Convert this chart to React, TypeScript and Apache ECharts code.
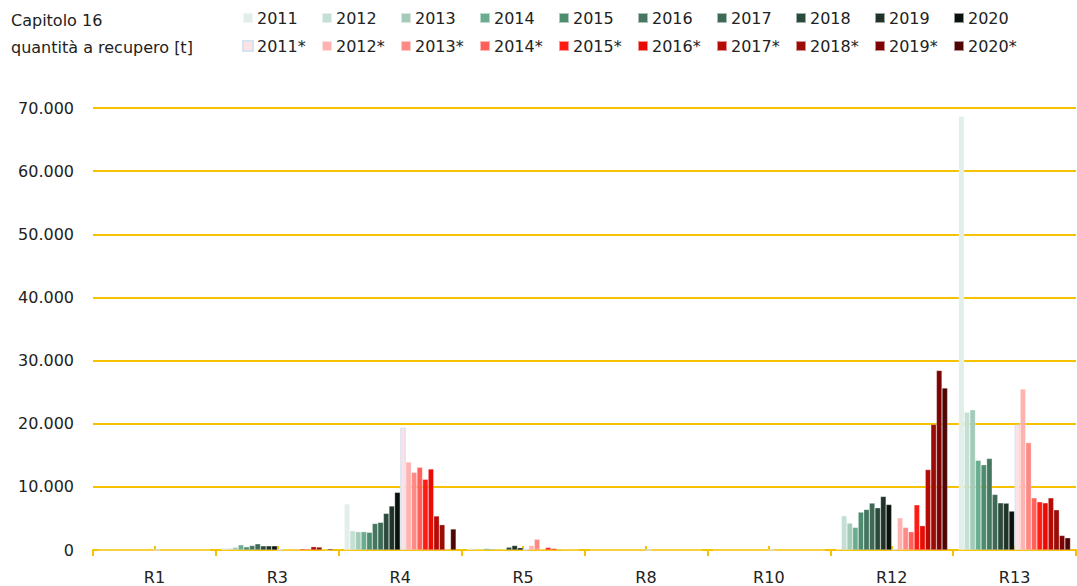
import React, { useEffect, useRef } from "react";
import * as echarts from "echarts";

const categories = ["R1", "R3", "R4", "R5", "R8", "R10", "R12", "R13"];

const seriesNames = [
  "2011", "2012", "2013", "2014", "2015", "2016", "2017", "2018", "2019", "2020",
  "2011*", "2012*", "2013*", "2014*", "2015*", "2016*", "2017*", "2018*", "2019*", "2020*",
];

const seriesColors = [
  "#e2eee8", "#c4dfd4", "#a4cbb8", "#6aac8e", "#4e8c70", "#457660", "#3d6955", "#2c4a3c", "#1f3329", "#0a120e",
  "#fde2e4", "#ffb3b0", "#ff8a85", "#ff615a", "#ff1a14", "#e80c04", "#b80a04", "#9a0c05", "#7c0204", "#4e0504",
];

// values per series across categories R1, R3, R4, R5, R8, R10, R12, R13
const v2011 = [0, 350, 7300, 290, 0, 0, 150, 68700];
const v2012 = [0, 290, 3060, 240, 0, 0, 5420, 21800];
const v2013 = [0, 440, 2900, 50, 0, 0, 4260, 22200];
const v2014 = [0, 820, 2900, 240, 0, 0, 3580, 14200];
const v2015 = [0, 500, 2800, 150, 0, 0, 6000, 13500];
const v2016 = [0, 710, 4200, 100, 0, 0, 6420, 14500];
const v2017 = [0, 980, 4380, 80, 0, 0, 7430, 8800];
const v2018 = [0, 660, 5800, 450, 0, 0, 6690, 7470];
const v2019 = [0, 660, 6970, 710, 0, 0, 8480, 7420];
const v2020 = [0, 660, 9130, 350, 0, 0, 7210, 6160];
const v2011s = [0, 50, 19400, 50, 0, 0, 100, 19850];
const v2012s = [0, 20, 13940, 710, 0, 0, 5100, 25500];
const v2013s = [0, 20, 12300, 1700, 0, 0, 3580, 17000];
const v2014s = [0, 30, 13100, 50, 0, 0, 2890, 8260];
const v2015s = [0, 200, 11200, 400, 0, 0, 7160, 7630];
const v2016s = [0, 150, 12830, 240, 0, 0, 3850, 7470];
const v2017s = [0, 520, 5390, 100, 0, 0, 12740, 8260];
const v2018s = [0, 470, 4010, 30, 0, 0, 19900, 6370];
const v2019s = [0, 80, 100, 20, 0, 0, 28440, 2300];
const v2020s = [0, 200, 3330, 20, 0, 0, 25650, 1940];

const seriesValues = [
  v2011, v2012, v2013, v2014, v2015, v2016, v2017, v2018, v2019, v2020,
  v2011s, v2012s, v2013s, v2014s, v2015s, v2016s, v2017s, v2018s, v2019s, v2020s,
];

const yTicks = [0, 10000, 20000, 30000, 40000, 50000, 60000, 70000];

const titleLines = ["Capitolo 16", "quantità a recupero [t]"];

const FONT = "'DejaVu Sans', 'Noto Sans', sans-serif";
const YELLOW = "#f6c200";
const TEXT = "#222";

export default function App() {
  const ref = useRef<HTMLDivElement>(null);

  useEffect(() => {
    if (!ref.current) return;
    const chart = echarts.init(ref.current, undefined, { renderer: "svg" });

    const series = seriesNames.map((name, i) => ({
      name,
      type: "bar",
      xAxisIndex: 0,
      data: seriesValues[i],
      barGap: "0%",
      barCategoryGap: "9%",
      itemStyle: {
        color: seriesColors[i],
        borderColor: i === 10 ? "#d6e2f0" : "rgba(255,255,255,0.55)",
        borderWidth: i === 10 ? 1 : 0.5,
      },
    }));

    const legends = seriesNames.map((name, i) => ({
      data: [name],
      left: 242 + (i % 10) * 79,
      top: i < 10 ? 10 : 38,
      itemWidth: 10,
      itemHeight: 10,
      itemGap: 0,
      padding: 0,
      icon: "rect",
      selectedMode: false,
      textStyle: { fontFamily: FONT, fontSize: 16, color: TEXT, padding: [0, 0, 0, -1] },
    }));

    chart.setOption({
      animation: false,
      backgroundColor: "#fff",
      graphic: titleLines.map((t, i) => ({
        type: "text",
        left: 11,
        top: 12 + i * 27,
        style: { text: t, fontFamily: FONT, fontSize: 16, fill: TEXT },
      })),
      legend: legends,
      grid: { left: 93, right: 1, top: 108, bottom: 36, containLabel: false },
      xAxis: [
        {
          type: "category",
          data: categories,
          position: "bottom",
          axisLine: { show: true, lineStyle: { color: YELLOW, width: 2 } },
          axisTick: { show: true, alignWithLabel: false, length: 6, lineStyle: { color: YELLOW, width: 2 } },
          axisLabel: { fontFamily: FONT, fontSize: 16, color: TEXT, margin: 19 },
          splitLine: { show: false },
        },
        {
          type: "category",
          data: categories,
          position: "bottom",
          axisLine: { show: false },
          axisTick: { show: true, inside: true, alignWithLabel: true, length: 4, lineStyle: { color: YELLOW, width: 2 } },
          axisLabel: { show: false },
          splitLine: { show: false },
        },
      ],
      yAxis: {
        type: "value",
        min: yTicks[0],
        max: yTicks[yTicks.length - 1],
        interval: 10000,
        axisLine: { show: false },
        axisTick: { show: false },
        axisLabel: {
          fontFamily: FONT,
          fontSize: 16,
          color: TEXT,
          margin: 19,
          formatter: (v: number) => (v === 0 ? "0" : v.toLocaleString("de-DE")),
        },
        splitLine: { show: true, lineStyle: { color: YELLOW, width: 2 } },
      },
      series,
    });

    return () => chart.dispose();
  }, []);

  return <div ref={ref} style={{ width: 1077, height: 586, position: "absolute", left: 0, top: 0 }} />;
}
